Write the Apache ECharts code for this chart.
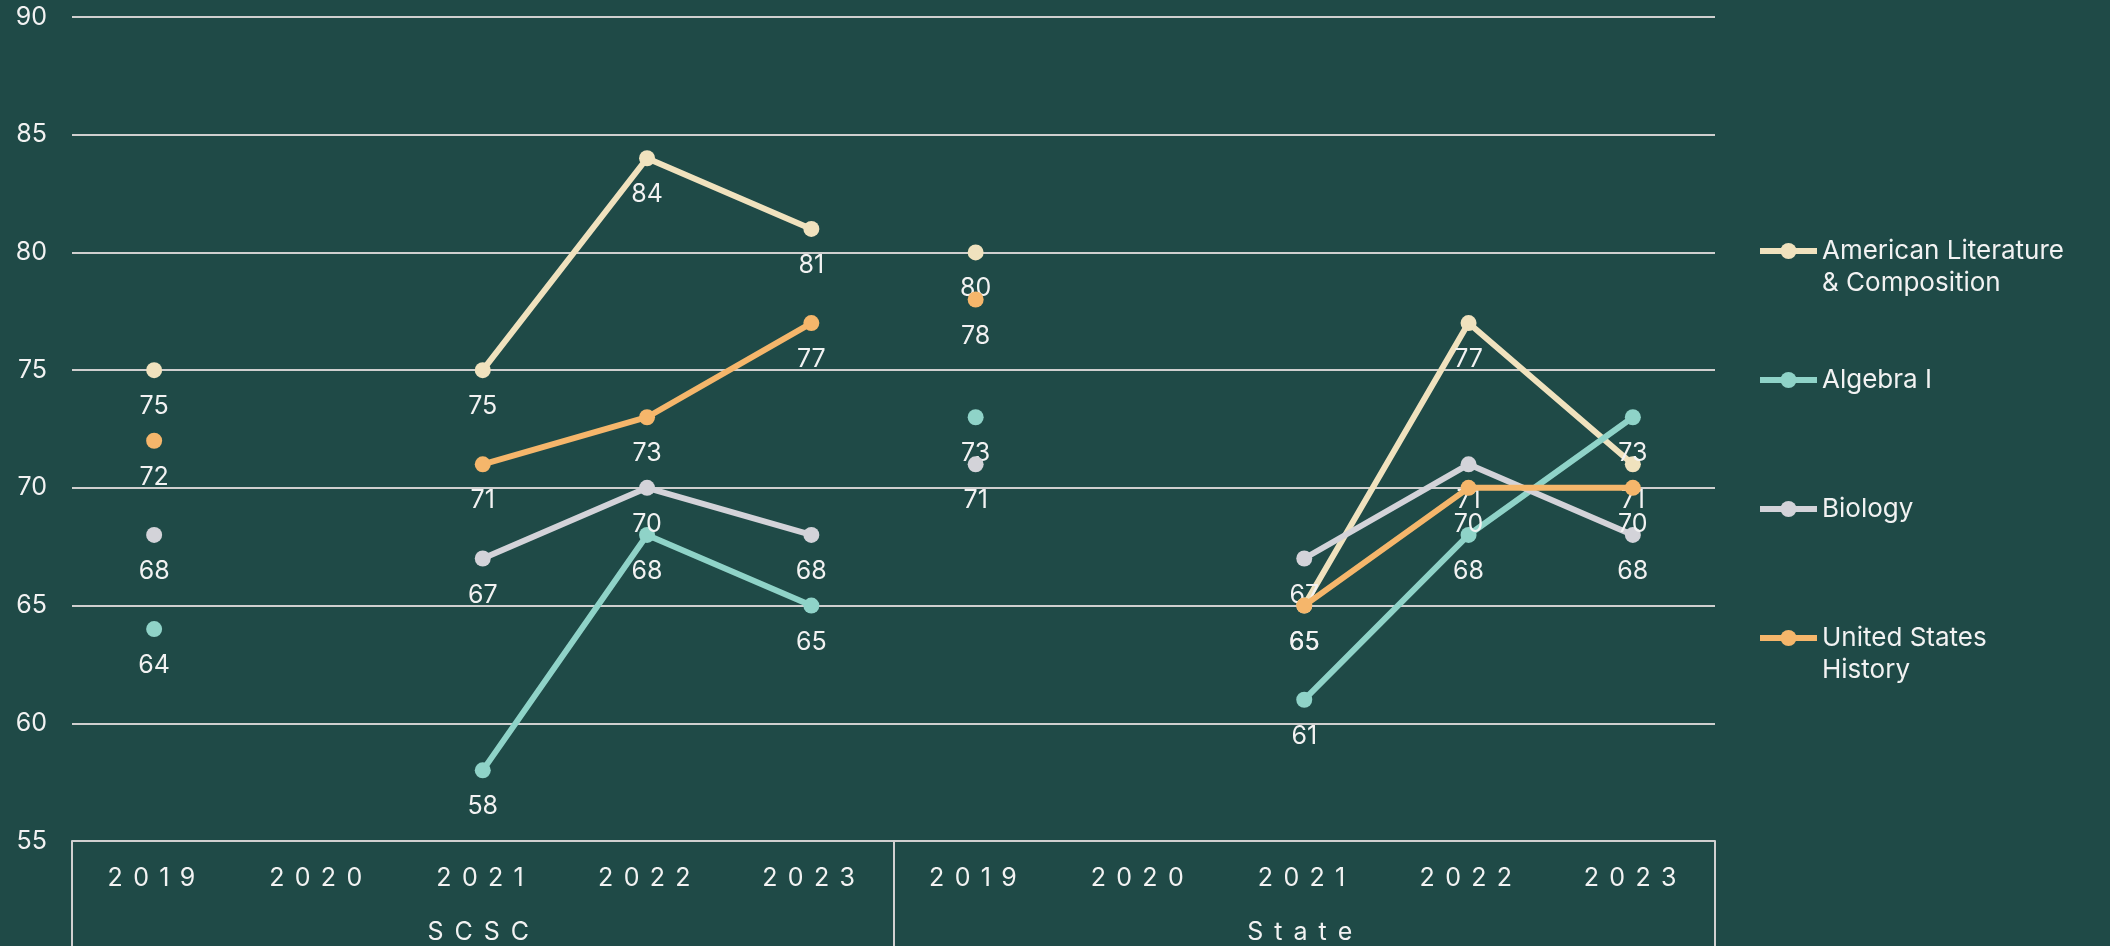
<!DOCTYPE html>
<html>
<head>
<meta charset="utf-8">
<style>
html,body{margin:0;padding:0;background:#1F4A47;}
#chart{width:2110px;height:946px;}
</style>
<script src="https://cdn.jsdelivr.net/npm/echarts@6/dist/echarts.min.js"></script>
</head>
<body>
<div id="chart"></div>
<script>
// ---- data ----
const groups = ['SCSC', 'State'];
const years = ['2019', '2020', '2021', '2022', '2023'];
const subjects = ['American Literature\n& Composition', 'Algebra I', 'Biology', 'United States\nHistory'];
const colors = ['#F0E2BE', '#8FD3C8', '#D3D3D9', '#F5B66B'];
// values per year (2019..2023), null = no data
const amLitSCSC  = [75, null, 75, 84, 81];
const amLitState = [80, null, 65, 77, 71];
const algSCSC    = [64, null, 58, 68, 65];
const algState   = [73, null, 61, 68, 73];
const bioSCSC    = [68, null, 67, 70, 68];
const bioState   = [71, null, 67, 71, 68];
const ushSCSC    = [72, null, 71, 73, 77];
const ushState   = [78, null, 65, 70, 70];
const yTicks = {min: 55, max: 90, interval: 5};

const scscData  = [amLitSCSC, algSCSC, bioSCSC, ushSCSC];
const stateData = [amLitState, algState, bioState, ushState];

// categories: year labels repeated per group
const categories = [];
groups.forEach(g => years.forEach(y => categories.push(g + '|' + y)));

const FONT = 'Inter';
const TXT = '#F2F2F2';

function spaced(str, key) {
  return str.split('').map(c => '{' + key + '|' + c + '}').join('');
}

const series = [];
subjects.forEach((name, i) => {
  [scscData[i], stateData[i]].forEach((vals, gi) => {
    const data = new Array(categories.length).fill(null);
    vals.forEach((v, k) => { data[gi * years.length + k] = v; });
    series.push({
      name: name,
      type: 'line',
      data: data,
      connectNulls: false,
      symbol: 'circle',
      symbolSize: 16,
      itemStyle: {color: colors[i]},
      lineStyle: {color: colors[i], width: 6},
      label: {
        show: true,
        position: 'bottom',
        distance: 16,
        color: TXT,
        fontSize: 25,
        fontFamily: FONT
      },
      emphasis: {disabled: true},
      animation: false,
      z: 2 + i
    });
  });
});

const chart = echarts.init(document.getElementById('chart'));
chart.setOption({
  backgroundColor: '#1F4A47',
  animation: false,
  grid: {left: 72, right: 395, top: 17, bottom: 105, containLabel: false},
  legend: {
    orient: 'vertical',
    left: 1757,
    top: 203,
    padding: 0,
    itemGap: 33,
    itemWidth: 57,
    itemHeight: 20,
    lineStyle: {width: 6},
    textStyle: {color: TXT, fontSize: 26, fontFamily: FONT, lineHeight: 32},
    formatter: n => '\n' + n + (n.indexOf('\n') >= 0 ? '' : '\n'),
    data: subjects
  },
  xAxis: [
    {
      type: 'category',
      data: categories,
      position: 'bottom',
      axisLine: {show: true, lineStyle: {color: '#D0D0D0', width: 2}},
      axisTick: {show: false},
      axisLabel: {
        interval: 0,
        margin: 25,
        color: TXT,
        fontSize: 25,
        fontFamily: FONT,
        formatter: v => spaced(v.split('|')[1], 'c'),
        rich: {c: {fontSize: 25, fontFamily: FONT, color: TXT, padding: [0, 7.9, 0, 2.4]}}
      },
      splitLine: {show: false}
    },
    {
      type: 'category',
      data: groups,
      position: 'bottom',
      offset: 0,
      axisLine: {show: false},
      axisTick: {show: true, interval: 0, length: 110, lineStyle: {color: '#D0D0D0', width: 2}},
      axisLabel: {
        interval: 0,
        margin: 79,
        color: TXT,
        fontSize: 25,
        fontFamily: FONT,
        formatter: v => spaced(v, 'g'),
        rich: {g: {fontSize: 25, fontFamily: FONT, color: TXT, padding: [0, 10, 0, 1]}}
      }
    }
  ],
  yAxis: {
    type: 'value',
    min: yTicks.min,
    max: yTicks.max,
    interval: yTicks.interval,
    axisLine: {show: false},
    axisTick: {show: false},
    axisLabel: {color: TXT, fontSize: 25, fontFamily: FONT, margin: 25},
    splitLine: {lineStyle: {color: '#CFCFCF', width: 2}}
  },
  series: series
});
</script>
</body>
</html>
